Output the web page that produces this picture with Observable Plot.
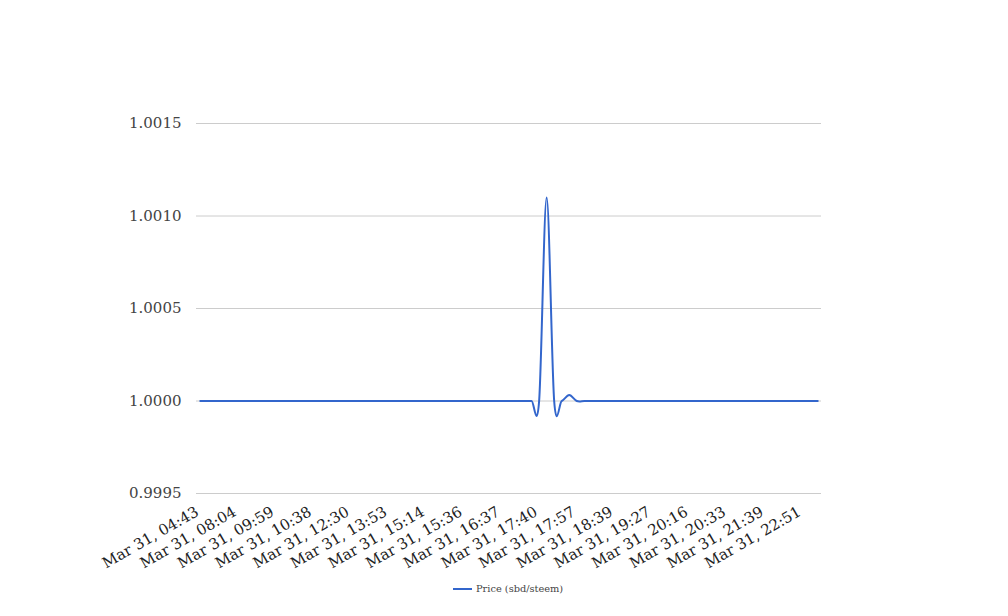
<!DOCTYPE html>
<html><head><meta charset="utf-8">
<script src="https://cdn.jsdelivr.net/npm/d3@7"></script>
<script src="https://cdn.jsdelivr.net/npm/@observablehq/plot@0.6"></script>
<style>
body{margin:0;background:#fff;font-family:"DejaVu Serif",serif;}
#wrap{position:relative;width:1008px;height:616px;overflow:hidden;}
#legend{position:absolute;left:453px;top:583px;display:flex;align-items:center;font-size:9.8px;color:#444;white-space:nowrap;}
#legend .sw{display:inline-block;width:19px;height:2px;background:#3366cc;margin-right:4px;}
</style></head><body>
<div id="wrap"><div id="chart"></div>
<div id="legend"><span class="sw"></span><span id="legtext"></span></div></div>
<script>
const seriesName = "Price (sbd/steem)";
const tickLabels = ["Mar 31, 04:43","Mar 31, 08:04","Mar 31, 09:59","Mar 31, 10:38","Mar 31, 12:30","Mar 31, 13:53","Mar 31, 15:14","Mar 31, 15:36","Mar 31, 16:37","Mar 31, 17:40","Mar 31, 17:57","Mar 31, 18:39","Mar 31, 19:27","Mar 31, 20:16","Mar 31, 20:33","Mar 31, 21:39","Mar 31, 22:51"];
const labelEvery = 5;
const prices = [
1,1,1,1,1,1,1,1,1,1,
1,1,1,1,1,1,1,1,1,1,
1,1,1,1,1,1,1,1,1,1,
1,1,1,1,1,1,1,1,1,1,
1,1,1,1,1,1,1.0011,1,1,1.000032,
1,1,1,1,1,1,1,1,1,1,
1,1,1,1,1,1,1,1,1,1,
1,1,1,1,1,1,1,1,1,1,
1,1,1
];
const yTicks = [0.9995,1.0000,1.0005,1.0010,1.0015];

document.getElementById("legtext").textContent = seriesName;
const data = prices.map((v,i)=>({i, v}));
const xTicks = tickLabels.map((_,k)=>k*labelEvery);
const chart = Plot.plot({
  width:1008, height:575,
  marginLeft:196, marginRight:187, marginTop:123, marginBottom:82,
  style:{fontFamily:"DejaVu Serif, serif", fontSize:"15px", color:"#444", background:"#fff"},
  x:{domain:[-0.5, prices.length-0.5], label:null},
  y:{domain:[0.9995,1.0015], label:null},
  marks:[
    Plot.gridY(yTicks,{stroke:"#ccc", strokeOpacity:1}),
    Plot.axisY(yTicks,{tickSize:0, tickPadding:15, tickFormat:d=>d.toFixed(4), label:null, fill:"#444"}),
    Plot.axisX(xTicks,{tickSize:0, tickPadding:17, dx:-3, tickRotate:-30, tickFormat:i=>tickLabels[i/labelEvery], label:null, fill:"#222"}),
    Plot.line(data,{x:"i", y:"v", curve:"cardinal", stroke:"#3366cc", strokeWidth:2})
  ]
});
document.getElementById("chart").appendChild(chart);
</script>
</body></html>
